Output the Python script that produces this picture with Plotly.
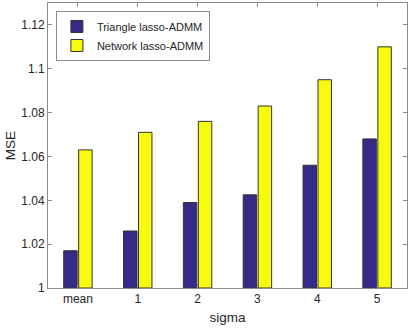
import plotly.graph_objects as go

categories = ["mean", "1", "2", "3", "4", "5"]
triangle = [1.017, 1.026, 1.039, 1.0425, 1.056, 1.068]
network = [1.063, 1.071, 1.076, 1.083, 1.095, 1.110]
y_ticks = [1, 1.02, 1.04, 1.06, 1.08, 1.1, 1.12]
y_labels = ["1", "1.02", "1.04", "1.06", "1.08", "1.1", "1.12"]

fig = go.Figure()
fig.add_trace(go.Bar(
    x=categories, y=[v - 1 for v in triangle], base=1, name="Triangle lasso-ADMM",
    marker=dict(color="#352a87", line=dict(color="#333333", width=1)),
))
fig.add_trace(go.Bar(
    x=categories, y=[v - 1 for v in network], base=1, name="Network lasso-ADMM",
    marker=dict(color="#f9fb0e", line=dict(color="#333333", width=1)),
))

fig.update_layout(
    width=411,
    height=328,
    margin=dict(l=48, r=4, t=3, b=40),
    paper_bgcolor="white",
    plot_bgcolor="white",
    font=dict(family="Liberation Sans, Arial, sans-serif", size=12, color="#262626"),
    barmode="group",
    bargap=0.5,
    bargroupgap=0.1,
    showlegend=True,
    legend=dict(
        x=0.022, y=0.972, xanchor="left", yanchor="top",
        bgcolor="white", bordercolor="#8c8c8c", borderwidth=1,
        font=dict(size=11), tracegroupgap=0, itemwidth=30,
    ),
)

fig.update_xaxes(
    title=dict(text="sigma", font=dict(size=13.5), standoff=7),
    range=[-0.5, 5.5],
    automargin=False,
    showline=True, linecolor="#8c8c8c", linewidth=1, mirror="ticks",
    ticks="inside", ticklen=4, tickcolor="#8c8c8c",
    showgrid=False, zeroline=False,
)
fig.update_yaxes(
    title=dict(text="MSE", font=dict(size=13.5), standoff=2),
    range=[1, 1.13],
    automargin=False,
    tickvals=y_ticks, ticktext=y_labels,
    showline=True, linecolor="#8c8c8c", linewidth=1, mirror="ticks",
    ticks="inside", ticklen=4, tickcolor="#8c8c8c",
    showgrid=False, zeroline=False,
)

# page body has a default 8px margin; drop it so the figure sits at the corner
fig.write_html(
    "out.html",
    config={"displayModeBar": False},
    post_script="document.body.style.margin='0';",
)
